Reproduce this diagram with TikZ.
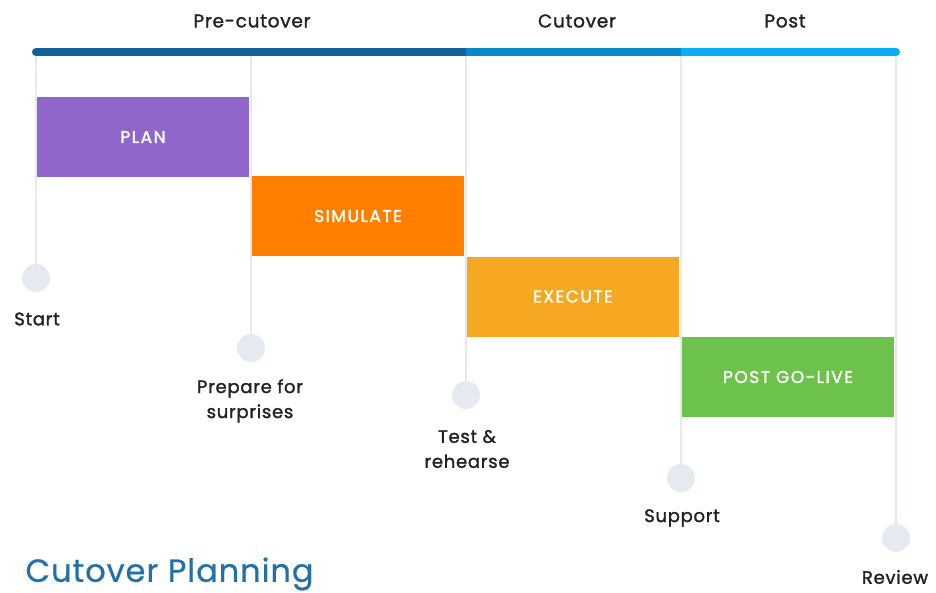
\documentclass[tikz,border=0pt]{standalone}
\usepackage{fontspec}
\setmainfont{Poppins}
\newfontfamily\lblfont[FakeBold=1.6,LetterSpace=4]{Poppins}
\newfontfamily\boxfont[FakeBold=1.8,LetterSpace=9]{Poppins}
\newfontfamily\ttlfont[FakeBold=0.6,LetterSpace=3]{Poppins}
\definecolor{bardark}{HTML}{14609A}
\definecolor{barmid}{HTML}{0588CC}
\definecolor{barlight}{HTML}{08AEF2}
\definecolor{stem}{HTML}{E4EAF0}
\definecolor{cplan}{HTML}{9166CB}
\definecolor{csim}{HTML}{FF8000}
\definecolor{cexec}{HTML}{F7A823}
\definecolor{cpost}{HTML}{6CC24A}
\definecolor{ctitle}{HTML}{2370A8}
\definecolor{ctext}{HTML}{222222}
\begin{document}
\begin{tikzpicture}[x=1pt,y=-1pt,
  stemline/.style={draw=stem,line width=2pt},
  dot/.style={circle,fill=stem,minimum size=28pt,inner sep=0pt},
  phase/.style={rectangle,minimum width=212pt,minimum height=80pt,inner sep=0pt,text=white,font=\boxfont\fontsize{17}{18}\selectfont},
  lbl/.style={text=ctext,align=center,font=\lblfont\fontsize{18}{25}\selectfont},
  hdr/.style={text=ctext,font=\lblfont\fontsize{18.5}{20}\selectfont}]
\useasboundingbox (0,0) rectangle (936,592);
% top coordinates
\coordinate (t1) at (36,52);
\coordinate (t2) at (251,52);
\coordinate (t3) at (466,52);
\coordinate (t4) at (681,52);
\coordinate (t5) at (896,52);
% milestone dots
\node[dot] (d1) at (36,278) {};
\node[dot] (d2) at (251,348) {};
\node[dot] (d3) at (466,395) {};
\node[dot] (d4) at (681,478) {};
\node[dot] (d5) at (896,538) {};
\draw[stemline] (t1) -- (d1);
\draw[stemline] (t2) -- (d2);
\draw[stemline] (t3) -- (d3);
\draw[stemline] (t4) -- (d4);
\draw[stemline] (t5) -- (d5);
% phase boxes
\node[phase,fill=cplan] (plan) at (143,137) {PLAN};
\node[phase,fill=csim] (sim) at (358,216) {SIMULATE};
\node[phase,fill=cexec] (exec) at (573,296.5) {EXECUTE};
\node[phase,fill=cpost] (post) at (788,377) {POST GO-LIVE};
% timeline bar
\draw[bardark,line width=8pt,line cap=round] (t1) -- (t3);
\draw[barlight,line width=8pt,line cap=round] (t4) -- (t5);
\draw[barmid,line width=8pt] (t3) -- (t4);
% headers
\node[hdr] (h1) at (252,21) {Pre-cutover};
\node[hdr] (h2) at (577,21) {Cutover};
\node[hdr] (h3) at (785,21) {Post};
% labels
\node[lbl] (l1) at (37,319) {Start};
\node[lbl] (l2) at (250,401) {Prepare for\\surprises};
\node[lbl] (l3) at (467,449) {Test \&\\rehearse};
\node[lbl] (l4) at (682,518) {Support};
\node[lbl] (l5) at (895,577) {Review};
% title
\node[anchor=west,text=ctitle,font=\ttlfont\fontsize{32}{34}\selectfont] (title) at (22,574) {Cutover Planning};
\end{tikzpicture}
\end{document}
